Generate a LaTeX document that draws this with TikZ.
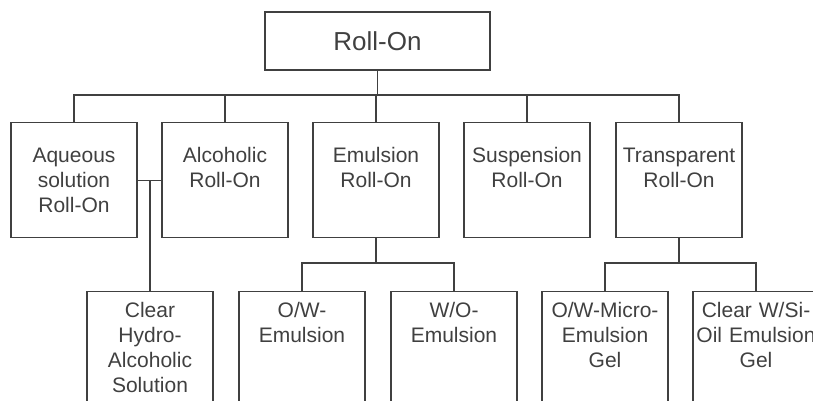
\documentclass[tikz,border=0pt]{standalone}
\usepackage{fontspec}
\setmainfont{Liberation Sans}
\usetikzlibrary{positioning}

\begin{document}
\begin{tikzpicture}[x=1pt,y=-1pt,color=black!75,line width=1.4pt,
    rootbox/.style = {draw, minimum width=225pt, minimum height=58pt, font=\fontsize{26}{30}\selectfont},
    kind/.style = {draw, anchor=north, inner sep=0pt, text width=126pt, align=center,
                   text height=40pt, text depth=75pt, font=\fontsize{21}{25}\selectfont},
    sub/.style = {kind, text height=26pt, text depth=114pt}]
\useasboundingbox (0,0) rectangle (813,400);
\clip (0,0) rectangle (813,400);
    % top
    \node[rootbox] (root) at (377.5,41) {Roll-On};
    % first row
    \node[kind] (aq) at (74,122) {Aqueous\\solution\\Roll-On};
    \node[kind] (al) at (225,122) {Alcoholic\\Roll-On};
    \node[kind] (em) at (376,122) {Emulsion\\Roll-On};
    \node[kind] (su) at (527,122) {Suspension\\Roll-On};
    \node[kind] (tr) at (679,122) {Transparent\\Roll-On};
    % second row
    \node[sub] (hy) at (150,291) {Clear\\Hydro-\\Alcoholic\\Solution};
    \node[sub] (ow) at (302,291) {O/W-\\Emulsion};
    \node[sub] (wo) at (454,291) {W/O-\\Emulsion};
    \node[sub] (mi) at (605,291) {O/W-Micro-\\Emulsion\\Gel};
    \node[sub] (si) at (756,291) {Clear W/Si-\\Oil Emulsion\\Gel};
    % buses
    \coordinate (b1) at (0,95);
    \coordinate (b2) at (0,263);
    \draw (root.south) -- (root.south |- b1);
    \draw (aq.north) -- (aq.north |- b1) -- (tr.north |- b1) -- (tr.north);
    \draw (al.north) -- (al.north |- b1);
    \draw (em.north) -- (em.north |- b1);
    \draw (su.north) -- (su.north |- b1);
    \draw (aq.east) -- (al.west);
    \draw (hy.north) -- (hy.north |- aq.east);
    \draw (em.south) -- (em.south |- b2);
    \draw (ow.north) -- (ow.north |- b2) -- (wo.north |- b2) -- (wo.north);
    \draw (tr.south) -- (tr.south |- b2);
    \draw (mi.north) -- (mi.north |- b2) -- (si.north |- b2) -- (si.north);
\end{tikzpicture}
\end{document}
